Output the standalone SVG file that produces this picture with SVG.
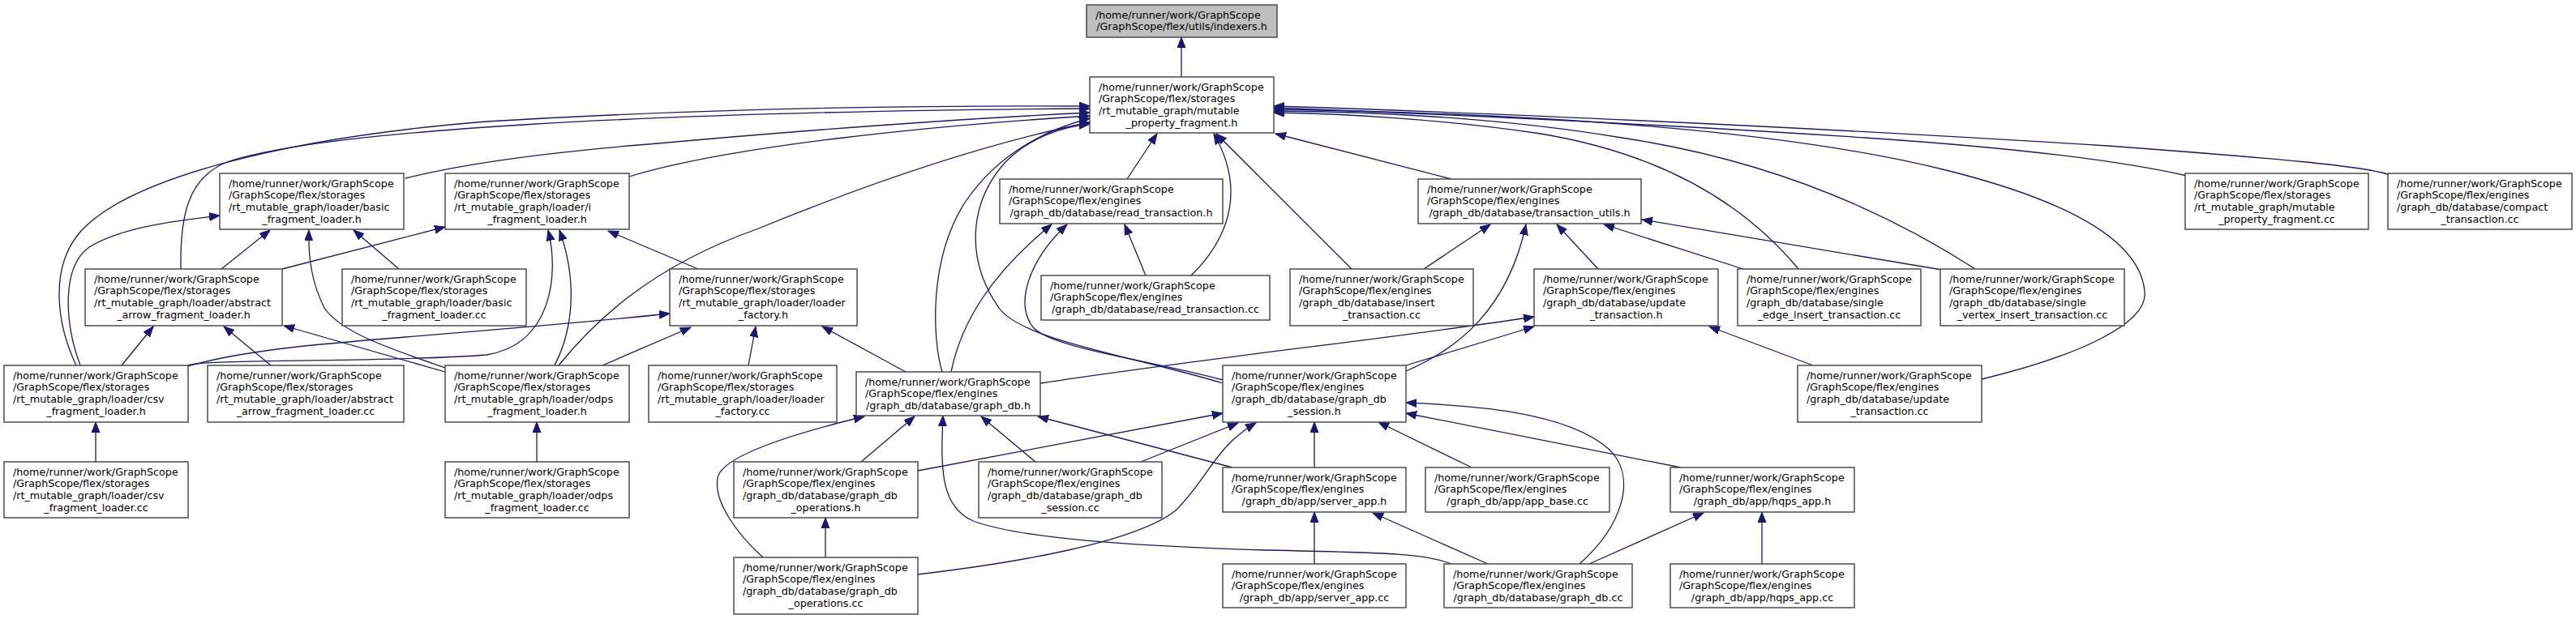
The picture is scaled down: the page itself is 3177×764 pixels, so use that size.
<svg xmlns="http://www.w3.org/2000/svg" width="3177" height="764" viewBox="0 0 3177 764">
<style>
.n rect{fill:#fff;stroke:#404040;stroke-width:1.4}
.n.top rect{fill:#bfbfbf}
.n text{font-family:"DejaVu Sans","Liberation Sans",sans-serif;font-size:12.7px;fill:#000}
.n text.c{text-anchor:middle}
.e path{fill:none;stroke:#191970;stroke-width:1.3;marker-end:url(#a)}
</style>
<defs>
<marker id="a" markerWidth="14" markerHeight="11" refX="13" refY="5" orient="auto" markerUnits="userSpaceOnUse">
<path d="M0,0 L13,5 L0,10 z" fill="#191970" stroke="#191970" stroke-width="1"/>
</marker>
</defs>
<rect x="0" y="0" width="3177" height="764" fill="#fff"/>
<g id="edges" class="e">
<path d="M1457,95 L1457,46"/>
<path d="M94,451 C70,400 60,330 100,285 C160,220 350,170 600,150 C900,132 1150,130 1344,131"/>
<path d="M99,451 C80,400 75,330 110,305 C150,280 220,272 271,266"/>
<path d="M223,332 C222,270 230,220 280,200 C400,160 800,138 1344,134"/>
<path d="M500,220 C560,205 650,190 800,178 C1000,160 1200,146 1344,139"/>
<path d="M776,218 C900,180 1150,155 1344,143"/>
<path d="M689,451 C730,400 800,330 933,283 C1050,235 1200,180 1344,151"/>
<path d="M1162,459 C1150,420 1145,320 1190,250 C1230,190 1290,160 1344,146"/>
<path d="M1508,473 C1400,440 1260,420 1232,380 C1190,320 1195,250 1240,200 C1270,170 1310,156 1344,153"/>
<path d="M1508,469 C1420,445 1300,430 1275,405 C1250,375 1270,320 1316,277"/>
<path d="M1173,459 C1185,400 1220,340 1297,277"/>
<path d="M1390,221 L1427,165"/>
<path d="M1413,340 L1387,277"/>
<path d="M1469,340 C1510,300 1540,240 1497,165"/>
<path d="M1667,332 L1500,165"/>
<path d="M1790,221 L1573,165"/>
<path d="M1756,332 L1838,277"/>
<path d="M1971,332 L1920,277"/>
<path d="M2150,332 L1978,277"/>
<path d="M2395,333 L2025,271"/>
<path d="M1734,458 C1800,430 1860,380 1882,277"/>
<path d="M1734,451 L1892,403"/>
<path d="M1283,473 C1500,440 1700,420 1892,391"/>
<path d="M2236,451 L2108,403"/>
<path d="M2444,468 C2560,440 2650,400 2645,360 C2640,300 2560,250 2400,210 C2200,160 1900,140 1571,135"/>
<path d="M2436,332 C2340,270 2200,200 2000,170 C1850,145 1700,138 1571,137"/>
<path d="M2218,332 C2150,250 2050,190 1900,165 C1780,147 1650,140 1571,139"/>
<path d="M2697,217 C2600,195 2450,180 2300,170 C2000,150 1700,138 1571,133"/>
<path d="M2947,216 C2920,205 2800,195 2600,180 C2200,155 1800,138 1571,131"/>
<path d="M2173,696 L2173,632"/>
<path d="M1960,696 L2101,633"/>
<path d="M1835,696 L1693,633"/>
<path d="M1621,696 L1621,632"/>
<path d="M1948,696 C2000,650 2020,590 1985,555 C1930,505 1800,500 1734,497"/>
<path d="M2073,577 L1734,510"/>
<path d="M1621,577 L1621,521"/>
<path d="M1815,577 L1700,521"/>
<path d="M1790,696 C1760,684 1720,682 1560,679 C1400,674 1260,665 1200,643 C1160,625 1160,580 1163,513"/>
<path d="M1520,577 L1280,514"/>
<path d="M1277,570 L1210,514"/>
<path d="M1407,570 L1527,522"/>
<path d="M1062,570 L1128,514"/>
<path d="M1132,581 L1508,510"/>
<path d="M1018,688 L1018,639"/>
<path d="M941,688 C910,660 880,620 885,590 C890,560 1000,530 1066,514"/>
<path d="M1132,709 C1250,695 1400,670 1450,630 C1490,590 1500,550 1549,522"/>
<path d="M1117,459 L1014,403"/>
<path d="M923,451 L932,403"/>
<path d="M743,451 L852,404"/>
<path d="M232,452 C300,432 400,424 500,416 C650,404 750,395 826,387"/>
<path d="M232,451 C240,443 500,447 600,438 C680,425 690,340 676,284"/>
<path d="M684,451 C710,400 710,340 690,284"/>
<path d="M549,459 L350,402"/>
<path d="M549,454 C480,430 420,410 400,380 C385,350 380,320 381,284"/>
<path d="M861,332 L750,285"/>
<path d="M348,332 L549,280"/>
<path d="M273,332 L333,284"/>
<path d="M492,332 L436,284"/>
<path d="M150,451 L189,403"/>
<path d="M334,451 L276,403"/>
<path d="M118,570 L118,521"/>
<path d="M662,570 L662,521"/>
</g>
<g id="indexers_h" class="n top"><rect x="1340" y="6" width="235" height="40"/><text x="1351" y="22.5">/home/runner/work/GraphScope</text><text class="c" x="1457.5" y="37.2">/GraphScope/flex/utils/indexers.h</text></g>
<g id="mutable_property_fragment_h" class="n"><rect x="1344" y="95" width="227" height="69"/><text x="1355" y="111.5">/home/runner/work/GraphScope</text><text x="1355" y="126.2">/GraphScope/flex/storages</text><text x="1355" y="140.9">/rt_mutable_graph/mutable</text><text class="c" x="1457.5" y="155.6">_property_fragment.h</text></g>
<g id="basic_fragment_loader_h" class="n"><rect x="271" y="214" width="227" height="69"/><text x="282" y="230.5">/home/runner/work/GraphScope</text><text x="282" y="245.2">/GraphScope/flex/storages</text><text x="282" y="259.9">/rt_mutable_graph/loader/basic</text><text class="c" x="384.5" y="274.6">_fragment_loader.h</text></g>
<g id="i_fragment_loader_h" class="n"><rect x="549" y="214" width="227" height="69"/><text x="560" y="230.5">/home/runner/work/GraphScope</text><text x="560" y="245.2">/GraphScope/flex/storages</text><text x="560" y="259.9">/rt_mutable_graph/loader/i</text><text class="c" x="662.5" y="274.6">_fragment_loader.h</text></g>
<g id="mutable_property_fragment_cc" class="n"><rect x="2695" y="214" width="226" height="69"/><text x="2706" y="230.5">/home/runner/work/GraphScope</text><text x="2706" y="245.2">/GraphScope/flex/storages</text><text x="2706" y="259.9">/rt_mutable_graph/mutable</text><text class="c" x="2808" y="274.6">_property_fragment.cc</text></g>
<g id="compact_transaction_cc" class="n"><rect x="2945" y="214" width="227" height="69"/><text x="2956" y="230.5">/home/runner/work/GraphScope</text><text x="2956" y="245.2">/GraphScope/flex/engines</text><text x="2956" y="259.9">/graph_db/database/compact</text><text class="c" x="3058.5" y="274.6">_transaction.cc</text></g>
<g id="read_transaction_h" class="n"><rect x="1233" y="221" width="275" height="55"/><text x="1244" y="237.5">/home/runner/work/GraphScope</text><text x="1244" y="252.2">/GraphScope/flex/engines</text><text class="c" x="1370.5" y="266.9">/graph_db/database/read_transaction.h</text></g>
<g id="transaction_utils_h" class="n"><rect x="1749" y="221" width="275" height="55"/><text x="1760" y="237.5">/home/runner/work/GraphScope</text><text x="1760" y="252.2">/GraphScope/flex/engines</text><text class="c" x="1886.5" y="266.9">/graph_db/database/transaction_utils.h</text></g>
<g id="abstract_arrow_fragment_loader_h" class="n"><rect x="105" y="332" width="243" height="70"/><text x="116" y="348.5">/home/runner/work/GraphScope</text><text x="116" y="363.2">/GraphScope/flex/storages</text><text x="116" y="377.9">/rt_mutable_graph/loader/abstract</text><text class="c" x="226.5" y="392.6">_arrow_fragment_loader.h</text></g>
<g id="basic_fragment_loader_cc" class="n"><rect x="422" y="332" width="227" height="70"/><text x="433" y="348.5">/home/runner/work/GraphScope</text><text x="433" y="363.2">/GraphScope/flex/storages</text><text x="433" y="377.9">/rt_mutable_graph/loader/basic</text><text class="c" x="535.5" y="392.6">_fragment_loader.cc</text></g>
<g id="loader_factory_h" class="n"><rect x="826" y="332" width="231" height="70"/><text x="837" y="348.5">/home/runner/work/GraphScope</text><text x="837" y="363.2">/GraphScope/flex/storages</text><text x="837" y="377.9">/rt_mutable_graph/loader/loader</text><text class="c" x="941.5" y="392.6">_factory.h</text></g>
<g id="insert_transaction_cc" class="n"><rect x="1591" y="332" width="226" height="70"/><text x="1602" y="348.5">/home/runner/work/GraphScope</text><text x="1602" y="363.2">/GraphScope/flex/engines</text><text x="1602" y="377.9">/graph_db/database/insert</text><text class="c" x="1704" y="392.6">_transaction.cc</text></g>
<g id="update_transaction_h" class="n"><rect x="1892" y="332" width="227" height="70"/><text x="1903" y="348.5">/home/runner/work/GraphScope</text><text x="1903" y="363.2">/GraphScope/flex/engines</text><text x="1903" y="377.9">/graph_db/database/update</text><text class="c" x="2005.5" y="392.6">_transaction.h</text></g>
<g id="single_edge_insert_transaction_cc" class="n"><rect x="2143" y="332" width="226" height="70"/><text x="2154" y="348.5">/home/runner/work/GraphScope</text><text x="2154" y="363.2">/GraphScope/flex/engines</text><text x="2154" y="377.9">/graph_db/database/single</text><text class="c" x="2256" y="392.6">_edge_insert_transaction.cc</text></g>
<g id="single_vertex_insert_transaction_cc" class="n"><rect x="2393" y="332" width="227" height="70"/><text x="2404" y="348.5">/home/runner/work/GraphScope</text><text x="2404" y="363.2">/GraphScope/flex/engines</text><text x="2404" y="377.9">/graph_db/database/single</text><text class="c" x="2506.5" y="392.6">_vertex_insert_transaction.cc</text></g>
<g id="read_transaction_cc" class="n"><rect x="1284" y="340" width="282" height="55"/><text x="1295" y="356.5">/home/runner/work/GraphScope</text><text x="1295" y="371.2">/GraphScope/flex/engines</text><text class="c" x="1425" y="385.9">/graph_db/database/read_transaction.cc</text></g>
<g id="csv_fragment_loader_h" class="n"><rect x="5" y="451" width="227" height="70"/><text x="16" y="467.5">/home/runner/work/GraphScope</text><text x="16" y="482.2">/GraphScope/flex/storages</text><text x="16" y="496.9">/rt_mutable_graph/loader/csv</text><text class="c" x="118.5" y="511.6">_fragment_loader.h</text></g>
<g id="abstract_arrow_fragment_loader_cc" class="n"><rect x="256" y="451" width="242" height="70"/><text x="267" y="467.5">/home/runner/work/GraphScope</text><text x="267" y="482.2">/GraphScope/flex/storages</text><text x="267" y="496.9">/rt_mutable_graph/loader/abstract</text><text class="c" x="377" y="511.6">_arrow_fragment_loader.cc</text></g>
<g id="odps_fragment_loader_h" class="n"><rect x="549" y="451" width="227" height="70"/><text x="560" y="467.5">/home/runner/work/GraphScope</text><text x="560" y="482.2">/GraphScope/flex/storages</text><text x="560" y="496.9">/rt_mutable_graph/loader/odps</text><text class="c" x="662.5" y="511.6">_fragment_loader.h</text></g>
<g id="loader_factory_cc" class="n"><rect x="800" y="451" width="232" height="70"/><text x="811" y="467.5">/home/runner/work/GraphScope</text><text x="811" y="482.2">/GraphScope/flex/storages</text><text x="811" y="496.9">/rt_mutable_graph/loader/loader</text><text class="c" x="916" y="511.6">_factory.cc</text></g>
<g id="graph_db_session_h" class="n"><rect x="1508" y="451" width="226" height="70"/><text x="1519" y="467.5">/home/runner/work/GraphScope</text><text x="1519" y="482.2">/GraphScope/flex/engines</text><text x="1519" y="496.9">/graph_db/database/graph_db</text><text class="c" x="1621" y="511.6">_session.h</text></g>
<g id="update_transaction_cc" class="n"><rect x="2217" y="451" width="227" height="70"/><text x="2228" y="467.5">/home/runner/work/GraphScope</text><text x="2228" y="482.2">/GraphScope/flex/engines</text><text x="2228" y="496.9">/graph_db/database/update</text><text class="c" x="2330.5" y="511.6">_transaction.cc</text></g>
<g id="graph_db_h" class="n"><rect x="1056" y="459" width="227" height="54"/><text x="1067" y="475.5">/home/runner/work/GraphScope</text><text x="1067" y="490.2">/GraphScope/flex/engines</text><text class="c" x="1169.5" y="504.9">/graph_db/database/graph_db.h</text></g>
<g id="csv_fragment_loader_cc" class="n"><rect x="5" y="570" width="227" height="69"/><text x="16" y="586.5">/home/runner/work/GraphScope</text><text x="16" y="601.2">/GraphScope/flex/storages</text><text x="16" y="615.9">/rt_mutable_graph/loader/csv</text><text class="c" x="118.5" y="630.6">_fragment_loader.cc</text></g>
<g id="odps_fragment_loader_cc" class="n"><rect x="549" y="570" width="227" height="69"/><text x="560" y="586.5">/home/runner/work/GraphScope</text><text x="560" y="601.2">/GraphScope/flex/storages</text><text x="560" y="615.9">/rt_mutable_graph/loader/odps</text><text class="c" x="662.5" y="630.6">_fragment_loader.cc</text></g>
<g id="graph_db_operations_h" class="n"><rect x="905" y="570" width="227" height="69"/><text x="916" y="586.5">/home/runner/work/GraphScope</text><text x="916" y="601.2">/GraphScope/flex/engines</text><text x="916" y="615.9">/graph_db/database/graph_db</text><text class="c" x="1018.5" y="630.6">_operations.h</text></g>
<g id="graph_db_session_cc" class="n"><rect x="1207" y="570" width="226" height="69"/><text x="1218" y="586.5">/home/runner/work/GraphScope</text><text x="1218" y="601.2">/GraphScope/flex/engines</text><text x="1218" y="615.9">/graph_db/database/graph_db</text><text class="c" x="1320" y="630.6">_session.cc</text></g>
<g id="server_app_h" class="n"><rect x="1508" y="577" width="226" height="55"/><text x="1519" y="593.5">/home/runner/work/GraphScope</text><text x="1519" y="608.2">/GraphScope/flex/engines</text><text class="c" x="1621" y="622.9">/graph_db/app/server_app.h</text></g>
<g id="app_base_cc" class="n"><rect x="1758" y="577" width="227" height="55"/><text x="1769" y="593.5">/home/runner/work/GraphScope</text><text x="1769" y="608.2">/GraphScope/flex/engines</text><text class="c" x="1871.5" y="622.9">/graph_db/app/app_base.cc</text></g>
<g id="hqps_app_h" class="n"><rect x="2060" y="577" width="227" height="55"/><text x="2071" y="593.5">/home/runner/work/GraphScope</text><text x="2071" y="608.2">/GraphScope/flex/engines</text><text class="c" x="2173.5" y="622.9">/graph_db/app/hqps_app.h</text></g>
<g id="graph_db_operations_cc" class="n"><rect x="905" y="688" width="227" height="70"/><text x="916" y="704.5">/home/runner/work/GraphScope</text><text x="916" y="719.2">/GraphScope/flex/engines</text><text x="916" y="733.9">/graph_db/database/graph_db</text><text class="c" x="1018.5" y="748.6">_operations.cc</text></g>
<g id="server_app_cc" class="n"><rect x="1508" y="696" width="226" height="54"/><text x="1519" y="712.5">/home/runner/work/GraphScope</text><text x="1519" y="727.2">/GraphScope/flex/engines</text><text class="c" x="1621" y="741.9">/graph_db/app/server_app.cc</text></g>
<g id="graph_db_cc" class="n"><rect x="1781" y="696" width="232" height="54"/><text x="1792" y="712.5">/home/runner/work/GraphScope</text><text x="1792" y="727.2">/GraphScope/flex/engines</text><text class="c" x="1897" y="741.9">/graph_db/database/graph_db.cc</text></g>
<g id="hqps_app_cc" class="n"><rect x="2060" y="696" width="227" height="54"/><text x="2071" y="712.5">/home/runner/work/GraphScope</text><text x="2071" y="727.2">/GraphScope/flex/engines</text><text class="c" x="2173.5" y="741.9">/graph_db/app/hqps_app.cc</text></g>
</svg>
